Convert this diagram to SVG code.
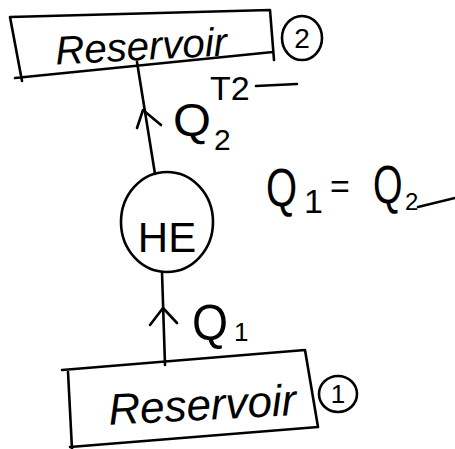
<svg xmlns="http://www.w3.org/2000/svg" width="455" height="449" viewBox="0 0 455 449">
<style>
.s{fill:none;stroke:#000;stroke-width:2.6;stroke-linecap:round;stroke-linejoin:round}
.t{font-family:"Liberation Sans",Arial,sans-serif;fill:#000}
</style>
<rect width="455" height="449" fill="#fff"/>
<g id="reservoir2">
<path class="s" d="M10,17 L270,10 L274,60 M15,78 L273,52 M10,17 L22,81"/>
<text class="t" x="55" y="60" font-size="40" font-style="italic" transform="rotate(-3 140 45)" textLength="172" lengthAdjust="spacingAndGlyphs">Reservoir</text>
<ellipse class="s" cx="302" cy="38" rx="20" ry="22"/>
<text class="t" x="302" y="48" font-size="28" text-anchor="middle">2</text>
</g>
<g id="he">
<ellipse class="s" cx="167" cy="222" rx="46" ry="50"/>
<text class="t" x="167" y="252" font-size="42" text-anchor="middle">HE</text>
</g>
<g id="reservoir1">
<path class="s" d="M62,370 L305,350 L318,427 L70,447 M68,372 L72,449"/>
<text class="t" x="108" y="420" font-size="44" font-style="italic" transform="rotate(-3 200 400)" textLength="188" lengthAdjust="spacingAndGlyphs">Reservoir</text>
<ellipse class="s" cx="338" cy="394" rx="19" ry="18"/>
<text class="t" x="338" y="403" font-size="26" text-anchor="middle">1</text>
</g>
<g id="connectors">
<path class="s" d="M137,62 L155,174"/>
<path class="s" d="M137,128 L143,110 L161,125"/>
<path class="s" d="M162,272 L165,365"/>
<path class="s" d="M150,325 L163,308 L177,323"/>
</g>
<g id="labels">
<text class="t" x="173" y="136" font-size="46" textLength="38" lengthAdjust="spacingAndGlyphs">Q</text>
<text class="t" x="214" y="150" font-size="30">2</text>
<text class="t" x="210" y="100" font-size="34">T2</text>
<path class="s" d="M256,86 L297,84"/>
<text class="t" x="192" y="340" font-size="50" textLength="36" lengthAdjust="spacingAndGlyphs">Q</text>
<text class="t" x="234" y="341" font-size="26">1</text>
<text class="t" font-size="40" transform="translate(266,206) scale(1,1.35)">Q</text>
<text class="t" x="304" y="213" font-size="34">1</text>
<text class="t" x="330" y="198" font-size="34">=</text>
<text class="t" font-size="38" transform="translate(373,203) scale(1,1.4)">Q</text>
<text class="t" x="405" y="210" font-size="24">2</text>
<path class="s" d="M418,207 L455,198"/>
</g>
</svg>
